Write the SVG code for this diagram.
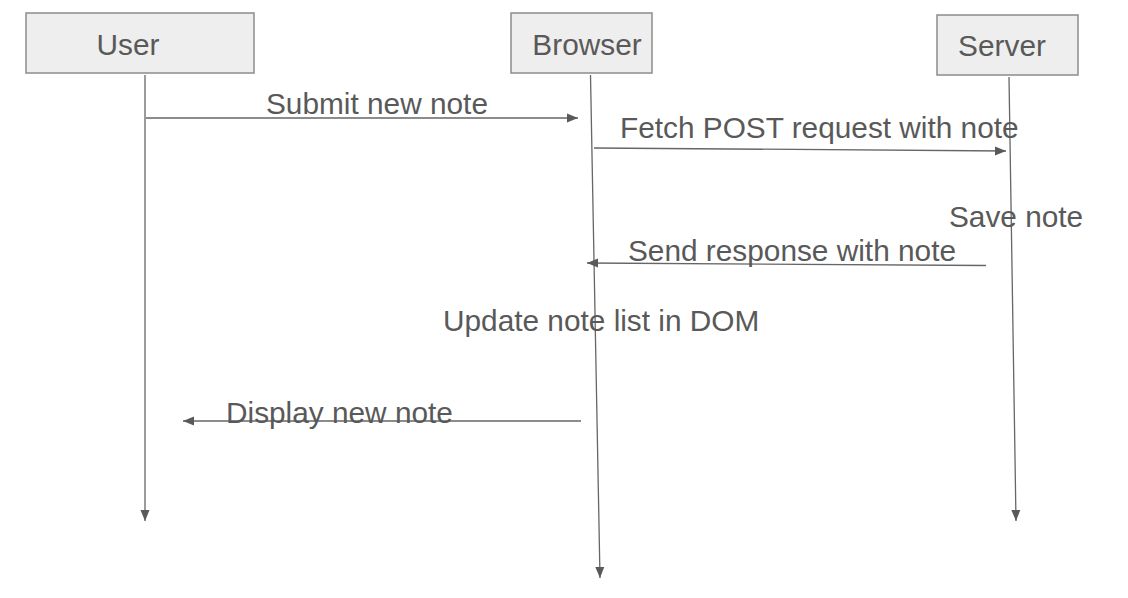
<svg xmlns="http://www.w3.org/2000/svg" width="1128" height="598" viewBox="0 0 1128 598">
<style>
.box{fill:#eeeeee;stroke:#8c8c8c;stroke-width:1.5}
.lbl{font-family:"Liberation Sans",Arial,sans-serif;font-size:29.8px;fill:#595959}
.ln{stroke:#666666;stroke-width:1.3;fill:none}
</style>
<defs>
<marker id="ah" markerUnits="userSpaceOnUse" markerWidth="12" markerHeight="10" refX="11" refY="5" orient="auto">
<path d="M0,0.5 L11,5 L0,9.5 Z" fill="#595959"/>
</marker>
</defs>
<rect width="1128" height="598" fill="#ffffff"/>
<g id="user">
<rect class="box" x="26" y="13" width="228" height="60"/>
<text class="lbl" x="128" y="55" text-anchor="middle">User</text>
</g>
<g id="browser">
<rect class="box" x="511" y="13" width="141" height="60"/>
<text class="lbl" x="587" y="55" text-anchor="middle">Browser</text>
</g>
<g id="server">
<rect class="box" x="937" y="15" width="141" height="60"/>
<text class="lbl" x="1002" y="56" text-anchor="middle">Server</text>
</g>
<g id="connectors">
<line class="ln" x1="145" y1="75" x2="145" y2="521" marker-end="url(#ah)"/>
<line class="ln" x1="590.5" y1="75" x2="600" y2="578" marker-end="url(#ah)"/>
<line class="ln" x1="1009" y1="77" x2="1016" y2="521" marker-end="url(#ah)"/>
<line class="ln" x1="146" y1="118" x2="578" y2="118" marker-end="url(#ah)"/>
<line class="ln" x1="594" y1="148" x2="1006" y2="151" marker-end="url(#ah)"/>
<line class="ln" x1="986" y1="265.5" x2="587" y2="263" marker-end="url(#ah)"/>
<line class="ln" x1="581" y1="421" x2="183" y2="421" marker-end="url(#ah)"/>
</g>
<g id="labels">
<text class="lbl" x="266" y="114">Submit new note</text>
<text class="lbl" x="620" y="138">Fetch POST request with note</text>
<text class="lbl" x="949" y="227">Save note</text>
<text class="lbl" x="628" y="261">Send response with note</text>
<text class="lbl" x="443" y="331">Update note list in DOM</text>
<text class="lbl" x="226" y="423">Display new note</text>
</g>
</svg>
